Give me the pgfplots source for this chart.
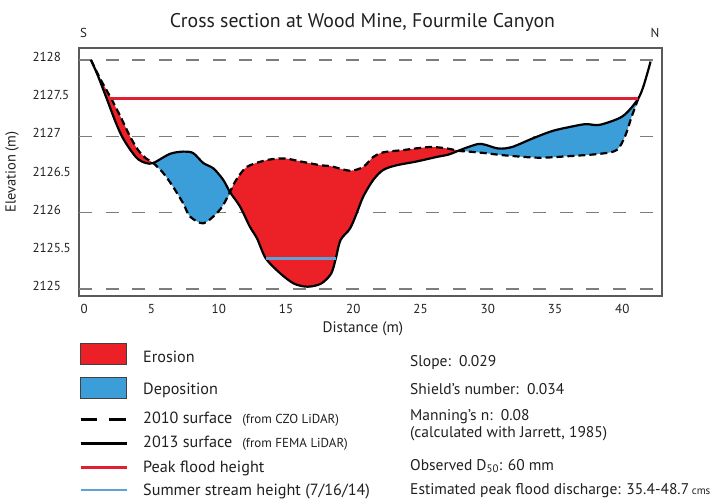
\documentclass[border=0pt]{standalone}
\usepackage{pgfplots}
\pgfplotsset{compat=1.18}
\usepackage{pgfplotstable}
\usepackage{fontspec}
\setmainfont{PT Sans}
\definecolor{erosion}{RGB}{236,32,39}
\definecolor{deposition}{RGB}{60,158,216}
\definecolor{peakred}{RGB}{225,30,50}
\definecolor{streamblue}{RGB}{95,160,215}
\definecolor{framegray}{RGB}{90,90,90}
\definecolor{gridgray}{RGB}{125,125,125}
\definecolor{txt}{RGB}{35,31,32}
\newcommand{\lgf}{\fontsize{16.2}{16.2}\selectfont}
\newcommand{\smf}{\fontsize{13}{13}\selectfont}

% 2010 surface (from CZO LiDAR), dashed
\pgfplotstableread{
x y
0.5 2128.00
1.2 2127.75
2.05 2127.48
2.8 2127.22
3.4 2127.00
4.0 2126.82
4.6 2126.71
5.13 2126.65
5.87 2126.52
6.6 2126.34
7.36 2126.12
7.86 2125.95
8.85 2125.86
9.84 2125.99
10.33 2126.10
10.83 2126.27
11.3 2126.43
12.1 2126.60
13.6 2126.69
14.9 2126.71
16.1 2126.67
17.6 2126.62
18.3 2126.61
19.75 2126.55
20.74 2126.60
21.49 2126.73
22.23 2126.79
23.7 2126.82
25.7 2126.86
27.0 2126.84
27.8 2126.81
28.6 2126.80
29.8 2126.78
31.3 2126.75
33.8 2126.72
36.0 2126.74
38.3 2126.77
39.58 2126.82
40.2 2127.00
40.7 2127.26
41.2 2127.50
}\surfA

% 2013 surface (from FEMA LiDAR), solid
\pgfplotstableread{
x y
0.5 2128.00
1.0 2127.80
1.7 2127.48
2.3 2127.20
2.8 2127.00
3.4 2126.83
4.0 2126.70
4.6 2126.65
5.13 2126.65
6.37 2126.77
7.36 2126.80
8.1 2126.78
8.85 2126.65
9.6 2126.58
10.33 2126.43
10.83 2126.27
11.58 2126.08
12.3 2125.82
12.85 2125.66
13.5 2125.40
14.6 2125.20
15.6 2125.07
16.6 2125.03
17.6 2125.07
18.35 2125.20
18.7 2125.40
19.05 2125.64
19.75 2125.79
20.25 2125.99
20.74 2126.21
21.49 2126.43
22.23 2126.56
23.2 2126.62
24.7 2126.67
26.2 2126.73
27.06 2126.76
27.8 2126.81
28.55 2126.86
29.3 2126.90
29.8 2126.89
30.8 2126.84
31.8 2126.86
33.3 2126.97
34.8 2127.07
36.3 2127.13
37.3 2127.16
38.3 2127.15
39.8 2127.24
40.5 2127.34
41.2 2127.50
41.56 2127.65
41.93 2127.87
42.1 2127.98
}\surfB

% erosion area 1 (2010 above 2013)
\pgfplotstableread{
x y
0.5 2128.00
1.2 2127.75
2.05 2127.48
2.8 2127.22
3.4 2127.00
4.0 2126.82
4.6 2126.71
5.13 2126.65
4.6 2126.65
4.0 2126.70
3.4 2126.83
2.8 2127.00
2.3 2127.20
1.7 2127.48
1.0 2127.80
0.5 2128.00
}\eroA

% deposition area 1 (2013 above 2010)
\pgfplotstableread{
x y
5.13 2126.65
6.37 2126.77
7.36 2126.80
8.1 2126.78
8.85 2126.65
9.6 2126.58
10.33 2126.43
10.83 2126.27
10.33 2126.10
9.84 2125.99
8.85 2125.86
7.86 2125.95
7.36 2126.12
6.6 2126.34
5.87 2126.52
5.13 2126.65
}\depA

% erosion area 2
\pgfplotstableread{
x y
10.83 2126.27
11.3 2126.43
12.1 2126.60
13.6 2126.69
14.9 2126.71
16.1 2126.67
17.6 2126.62
18.3 2126.61
19.75 2126.55
20.74 2126.60
21.49 2126.73
22.23 2126.79
23.7 2126.82
25.7 2126.86
27.0 2126.84
27.8 2126.81
27.06 2126.76
26.2 2126.73
24.7 2126.67
23.2 2126.62
22.23 2126.56
21.49 2126.43
20.74 2126.21
20.25 2125.99
19.75 2125.79
19.05 2125.64
18.7 2125.40
18.35 2125.20
17.6 2125.07
16.6 2125.03
15.6 2125.07
14.6 2125.20
13.5 2125.40
12.85 2125.66
12.3 2125.82
11.58 2126.08
10.83 2126.27
}\eroB

% deposition area 2
\pgfplotstableread{
x y
27.8 2126.81
28.55 2126.86
29.3 2126.90
29.8 2126.89
30.8 2126.84
31.8 2126.86
33.3 2126.97
34.8 2127.07
36.3 2127.13
37.3 2127.16
38.3 2127.15
39.8 2127.24
40.5 2127.34
41.2 2127.50
40.7 2127.26
40.2 2127.00
39.58 2126.82
38.3 2126.77
36.0 2126.74
33.8 2126.72
31.3 2126.75
29.8 2126.78
28.6 2126.80
27.8 2126.81
}\depB

\begin{document}
\begin{tikzpicture}
\useasboundingbox (0pt,0pt) rectangle (710pt,-499pt);
\begin{axis}[
  at={(79pt,-296pt)}, anchor=south west,
  scale only axis, width=583pt, height=248pt,
  xmin=-0.39, xmax=42.95, ymin=2124.908, ymax=2128.157,
  xtick={0,5,...,40}, xticklabels={0,5,10,15,20,25,30,35,40},
  ytick={2125,2125.5,2126,2126.5,2127,2127.5,2128},
  yticklabels={2125,2125.5,2126,2126.5,2127,2127.5,2128},
  extra y ticks={2125,2126,2127,2128}, extra y tick labels={},
  extra y tick style={grid=major, major grid style={draw=gridgray, line width=1.3pt, dash pattern=on 13pt off 13.7pt}},
  major tick length=0pt,
  axis line style={draw=framegray, line width=1.5pt},
  tick label style={font=\fontsize{13}{13}\selectfont, text=txt},
  xticklabel style={yshift=-5pt},
  yticklabel style={anchor=west, xshift=-50pt, yshift=3pt},
  xlabel={Distance (m)},
  ylabel={Elevation (m)},
  label style={font=\fontsize{15.2}{15.2}\selectfont, text=txt},
  xlabel style={at={(axis description cs:0.487,-0.149)}, anchor=base},
  ylabel style={at={(axis description cs:-0.1149,0.5)}, anchor=center, font=\fontsize{14.5}{14.5}\selectfont},
  legend style={at={(0,-0.1895)}, anchor=north west, draw=none, fill=none,
    inner xsep=0pt, inner ysep=0pt, outer sep=0pt, row sep=0pt, column sep=15pt,
    nodes={inner sep=0pt, text depth=0pt, font=\lgf, text=txt},
    cells={anchor=base west}},
]
% legend entries (first, so they take the first legend slots)
\addlegendimage{legend image code/.code={\draw[fill=erosion, draw=black!75, line width=0.8pt] (0pt,-2.3pt) rectangle (46pt,18.7pt);}}
\addlegendentry[text height=18.7pt, font=\lgf]{Erosion}
\addlegendimage{legend image code/.code={\draw[fill=deposition, draw=black!75, line width=0.8pt] (0pt,-4.7pt) rectangle (46pt,16.3pt);}}
\addlegendentry[text height=29.3pt, font=\lgf]{Deposition}
\addlegendimage{legend image code/.code={\draw[black, line width=3.2pt, dash pattern=on 16.7pt off 11.6pt] (0pt,4.3pt) -- (46pt,4.3pt);}}
\addlegendentry[text height=24.3pt, font=\lgf]{2010 surface\hspace{10pt}{\smf (from CZO LiDAR)}}
\addlegendimage{legend image code/.code={\draw[black, line width=3.2pt] (0pt,4.7pt) -- (46pt,4.7pt);}}
\addlegendentry[text height=24.4pt, font=\lgf]{2013 surface\hspace{10pt}{\smf (from FEMA LiDAR)}}
\addlegendimage{legend image code/.code={\draw[peakred, line width=2.8pt] (0pt,5.7pt) -- (46pt,5.7pt);}}
\addlegendentry[text height=25pt, font=\lgf]{Peak flood height}
\addlegendimage{legend image code/.code={\draw[streamblue, line width=2.8pt] (0pt,5.7pt) -- (46pt,5.7pt);}}
\addlegendentry[text height=22.8pt, font=\lgf]{Summer stream height (7/16/14)}

% erosion / deposition areas
\addplot[fill=erosion, draw=none, smooth, forget plot] table {\eroA};
\addplot[fill=deposition, draw=none, smooth, forget plot] table {\depA};
\addplot[fill=erosion, draw=none, smooth, forget plot] table {\eroB};
\addplot[fill=deposition, draw=none, smooth, forget plot] table {\depB};
% surfaces
\addplot[black, line width=2.2pt, dash pattern=on 7pt off 4pt, smooth, forget plot] table {\surfA};
\addplot[black, line width=2.2pt, smooth, forget plot] table {\surfB};
% peak flood height and summer stream height
\addplot[peakred, line width=3pt, forget plot] coordinates {(1.9,2127.5) (41.2,2127.5)};
\addplot[streamblue, line width=3pt, forget plot] coordinates {(13.5,2125.4) (18.7,2125.4)};
\end{axis}

\node[anchor=base, font=\fontsize{19.8}{19.8}\selectfont, text=txt] at (362.5pt,-27pt) {Cross section at Wood Mine, Fourmile Canyon};
\node[anchor=base, font=\fontsize{13}{13}\selectfont, text=txt] at (83.7pt,-37.5pt) {S};
\node[anchor=base, font=\fontsize{13}{13}\selectfont, text=txt] at (655pt,-37.5pt) {N};

\begin{scope}[every node/.style={anchor=base west, inner sep=0pt, font=\fontsize{15.5}{15.5}\selectfont, text=txt}]
\node at (410pt,-366pt) {Slope:\ \ 0.029};
\node at (410pt,-394pt) {Shield’s number:\ \ 0.034};
\node at (410pt,-420pt) {Manning’s n:\ \ 0.08};
\node at (410pt,-437.7pt) {(calculated with Jarrett, 1985)};
\node at (410pt,-470pt) {Observed D\textsubscript{50}: 60 mm};
\node at (410pt,-494pt) {Estimated peak flood discharge: 35.4-48.7\,{\fontsize{11}{11}\selectfont cms}};
\end{scope}
\end{tikzpicture}
\end{document}
